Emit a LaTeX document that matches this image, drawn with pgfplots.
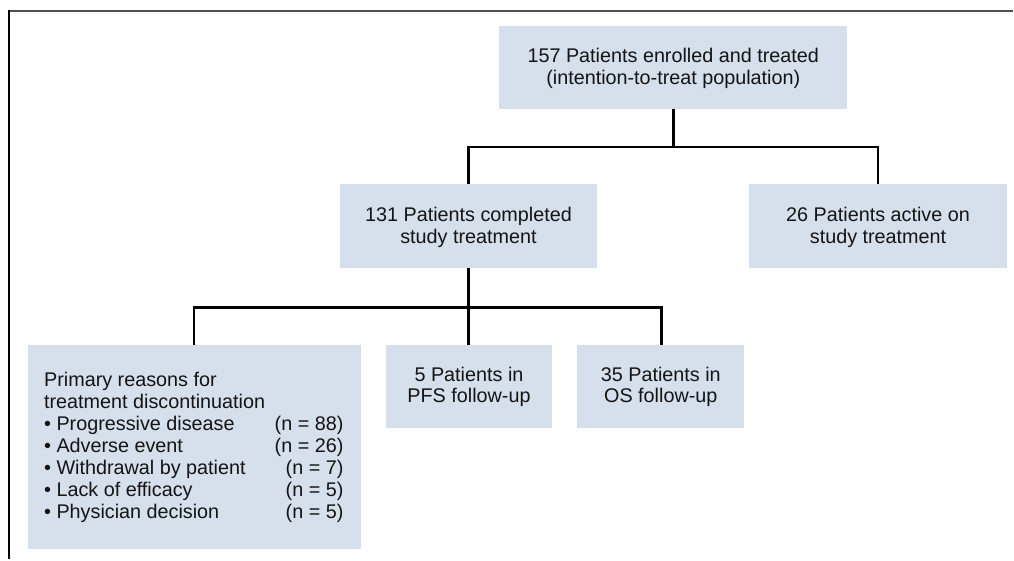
\documentclass[border=0pt]{standalone}
\usepackage{pgfplots}
\pgfplotsset{compat=1.18}
\usepackage{fontspec}
\setmainfont{Liberation Sans}
\definecolor{boxc}{RGB}{214,223,236}
\definecolor{topline}{RGB}{80,80,80}
\definecolor{txt}{RGB}{20,20,20}
\begin{document}
\begin{tikzpicture}[every node/.style={font=\fontsize{19.8}{21.5}\selectfont, inner sep=0pt, text=txt}]
\begin{axis}[scale only axis, width=1014pt, height=560pt,
  xmin=0, xmax=1014, ymin=0, ymax=560, y dir=reverse,
  hide axis, clip=false]
% invisible frame to fix the bounding box
\addplot[draw=none, forget plot] coordinates {(0,0) (1014,560)};
% outer frame (top and left only)
\addplot[topline, line width=2.2pt, forget plot] coordinates {(9,11) (1014,11)};
\addplot[black, line width=2pt, forget plot] coordinates {(9,10) (9,560)};
% connectors
\addplot[black, line width=2.5pt, line join=miter, forget plot] coordinates {(674,109) (674,147)};
\addplot[black, line width=2.5pt, line join=miter, forget plot] coordinates {(469,184) (469,147) (879,147) (879,184)};
\addplot[black, line width=2.5pt, line join=miter, forget plot] coordinates {(469,268) (469,345)};
\addplot[black, line width=2.5pt, line join=miter, forget plot] coordinates {(194,345) (194,308) (662,308) (662,345)};
% boxes
\addplot[fill=boxc, draw=none, forget plot] coordinates {(500,26) (848,26) (848,109) (500,109)};
\addplot[fill=boxc, draw=none, forget plot] coordinates {(340,184) (598,184) (598,268) (340,268)};
\addplot[fill=boxc, draw=none, forget plot] coordinates {(750,184) (1008,184) (1008,268) (750,268)};
\addplot[fill=boxc, draw=none, forget plot] coordinates {(28,345) (361,345) (361,550) (28,550)};
\addplot[fill=boxc, draw=none, forget plot] coordinates {(386,345) (553,345) (553,428) (386,428)};
\addplot[fill=boxc, draw=none, forget plot] coordinates {(578,345) (745,345) (745,428) (578,428)};
% texts
\node[anchor=base] at (axis cs:674,63) {157 Patients enrolled and treated};
\node[anchor=base] at (axis cs:674,85) {(intention-to-treat population)};
\node[anchor=base] at (axis cs:469,222) {131 Patients completed};
\node[anchor=base] at (axis cs:469,243.5) {study treatment};
\node[anchor=base] at (axis cs:879,222) {26 Patients active on};
\node[anchor=base] at (axis cs:879,243.5) {study treatment};
\node[anchor=base] at (axis cs:469.5,382) {5 Patients in};
\node[anchor=base] at (axis cs:469.5,403) {PFS follow-up};
\node[anchor=base] at (axis cs:661.5,382) {35 Patients in};
\node[anchor=base] at (axis cs:661.5,403) {OS follow-up};
\node[anchor=base west] at (axis cs:44,387) {Primary reasons for};
\node[anchor=base west] at (axis cs:44,409) {treatment discontinuation};
\node[anchor=base west] at (axis cs:44,431) {• Progressive disease};
\node[anchor=base west] at (axis cs:44,453) {• Adverse event};
\node[anchor=base west] at (axis cs:44,475) {• Withdrawal by patient};
\node[anchor=base west] at (axis cs:44,497) {• Lack of efficacy};
\node[anchor=base west] at (axis cs:44,519) {• Physician decision};
\node[anchor=base east] at (axis cs:344,431) {(n = 88)};
\node[anchor=base east] at (axis cs:344,453) {(n = 26)};
\node[anchor=base east] at (axis cs:344,475) {(n = 7)};
\node[anchor=base east] at (axis cs:344,497) {(n = 5)};
\node[anchor=base east] at (axis cs:344,519) {(n = 5)};
\end{axis}
\end{tikzpicture}
\end{document}
